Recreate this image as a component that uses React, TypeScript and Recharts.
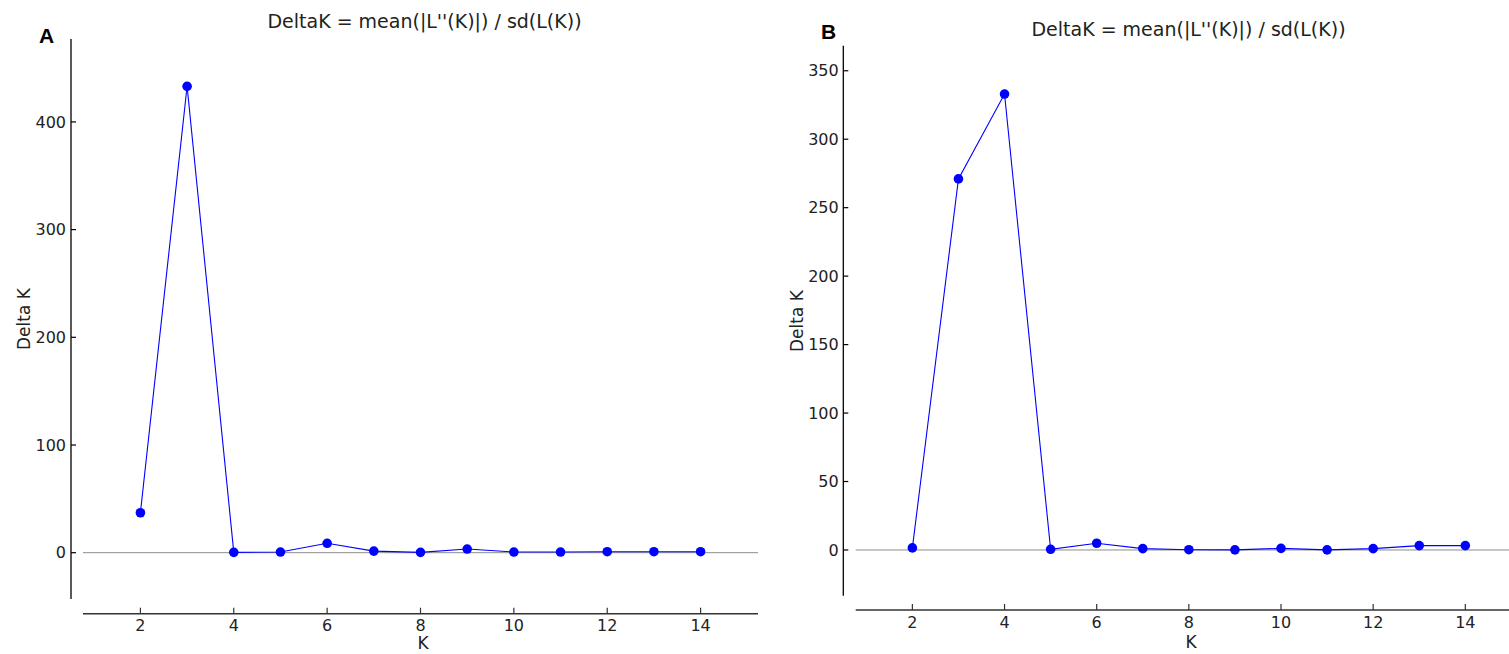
import React from 'react';
import { LineChart, Line, XAxis, YAxis, ReferenceLine } from 'recharts';

// K values and Delta K for both panels
const kValues = [2, 3, 4, 5, 6, 7, 8, 9, 10, 11, 12, 13, 14];
const deltaKA = [37.1, 433.1, 0.3, 0.6, 8.7, 1.5, 0.3, 3.4, 0.6, 0.6, 0.9, 0.9, 0.9];
const deltaKB = [1.5, 271, 333, 0.5, 4.9, 1.0, 0.2, 0.1, 1.2, 0.1, 1.0, 3.2, 3.2];

const xTicks = [2, 4, 6, 8, 10, 12, 14];
const yTicksA = [0, 100, 200, 300, 400];
const yTicksB = [0, 50, 100, 150, 200, 250, 300, 350];

const titleText = "DeltaK = mean(|L''(K)|) / sd(L(K))";

const FONT = '"DejaVu Sans", sans-serif';
const INK = '#222';

type PanelProps = {
    values: number[];
    yDomain: [number, number];
    yTicks: number[];
    left: number;
    width: number;
    margin: { top: number; right: number; bottom: number; left: number };
    ySpineShift: number;
    xSpineShift: number;
};

const Panel: React.FC<PanelProps> = ({ values, yDomain, yTicks, left, width, margin, ySpineShift, xSpineShift }) => {
    const data = kValues.map((k, i) => ({ k, dk: values[i] }));
    return (
        <div style={{ position: 'absolute', left, top: 0 }}>
            <LineChart width={width} height={654} data={data} margin={margin}>
                <XAxis
                    dataKey="k"
                    type="number"
                    domain={[0.77, 15.23]}
                    allowDataOverflow
                    ticks={xTicks}
                    height={40}
                    tickSize={-6}
                    tickMargin={27}
                    axisLine={{ stroke: '#333', strokeWidth: 1.5, transform: `translate(0 ${xSpineShift})` }}
                    tickLine={{ stroke: '#333', strokeWidth: 1.2, transform: `translate(0 ${xSpineShift})` }}
                    tick={{ fill: INK, fontSize: 16, fontFamily: FONT }}
                />
                <YAxis
                    type="number"
                    domain={yDomain}
                    allowDataOverflow
                    ticks={yTicks}
                    width={60}
                    tickSize={-5}
                    tickMargin={22}
                    axisLine={{ stroke: '#000', strokeWidth: 1.3, transform: `translate(${ySpineShift} 0)` }}
                    tickLine={{ stroke: '#000', strokeWidth: 1.2, transform: `translate(${ySpineShift} 0)` }}
                    tick={{ fill: INK, fontSize: 16, fontFamily: FONT }}
                />
                <ReferenceLine y={0} stroke="#8c8c8c" strokeWidth={1} />
                <Line
                    dataKey="dk"
                    type="linear"
                    stroke="#0000ff"
                    strokeWidth={1.1}
                    dot={{ r: 4.8, fill: '#0000ff', stroke: '#0000ff', strokeWidth: 0 }}
                    activeDot={false}
                    isAnimationActive={false}
                />
            </LineChart>
        </div>
    );
};

const textBase: React.CSSProperties = { position: 'absolute', fontFamily: FONT, color: INK, whiteSpace: 'nowrap' };
const letterStyle: React.CSSProperties = {
    ...textBase,
    fontSize: 21,
    fontWeight: 'bold',
    fontFamily: '"Liberation Sans", Arial, sans-serif',
    color: '#000',
    lineHeight: '24px',
};

export default function App() {
    return (
        <div style={{ position: 'absolute', left: 0, top: 0, width: 1509, height: 654, overflow: 'hidden', background: '#fff' }}>
            {/* panel A */}
            <Panel
                values={deltaKA}
                yDomain={[-43, 477]}
                yTicks={yTicksA}
                left={0}
                width={790}
                margin={{ top: 39, right: 32, bottom: 15, left: 23 }}
                ySpineShift={-12}
                xSpineShift={14.7}
            />
            {/* panel B */}
            <Panel
                values={deltaKB}
                yDomain={[-33.4, 368.3]}
                yTicks={yTicksB}
                left={760}
                width={800}
                margin={{ top: 45.7, right: 38, bottom: 18.3, left: 35.7 }}
                ySpineShift={-12.4}
                xSpineShift={14.3}
            />

            <div style={{ ...textBase, left: 224.5, top: 9, width: 400, textAlign: 'center', fontSize: 19, lineHeight: '24px' }}>{titleText}</div>
            <div style={{ ...textBase, left: 988.5, top: 17, width: 400, textAlign: 'center', fontSize: 19, lineHeight: '24px' }}>{titleText}</div>

            <div style={{ ...letterStyle, left: 39, top: 24 }}>A</div>
            <div style={{ ...letterStyle, left: 821, top: 20 }}>B</div>

            <div style={{ ...textBase, left: 24 - 50, top: 319 - 10, width: 100, height: 20, lineHeight: '20px', textAlign: 'center', fontSize: 17, transform: 'rotate(-90deg)' }}>Delta K</div>
            <div style={{ ...textBase, left: 797 - 50, top: 320.5 - 10, width: 100, height: 20, lineHeight: '20px', textAlign: 'center', fontSize: 17, transform: 'rotate(-90deg)' }}>Delta K</div>

            <div style={{ ...textBase, left: 423 - 20, top: 633, width: 40, textAlign: 'center', fontSize: 17, lineHeight: '20px' }}>K</div>
            <div style={{ ...textBase, left: 1191 - 20, top: 632, width: 40, textAlign: 'center', fontSize: 17, lineHeight: '20px' }}>K</div>
        </div>
    );
}
